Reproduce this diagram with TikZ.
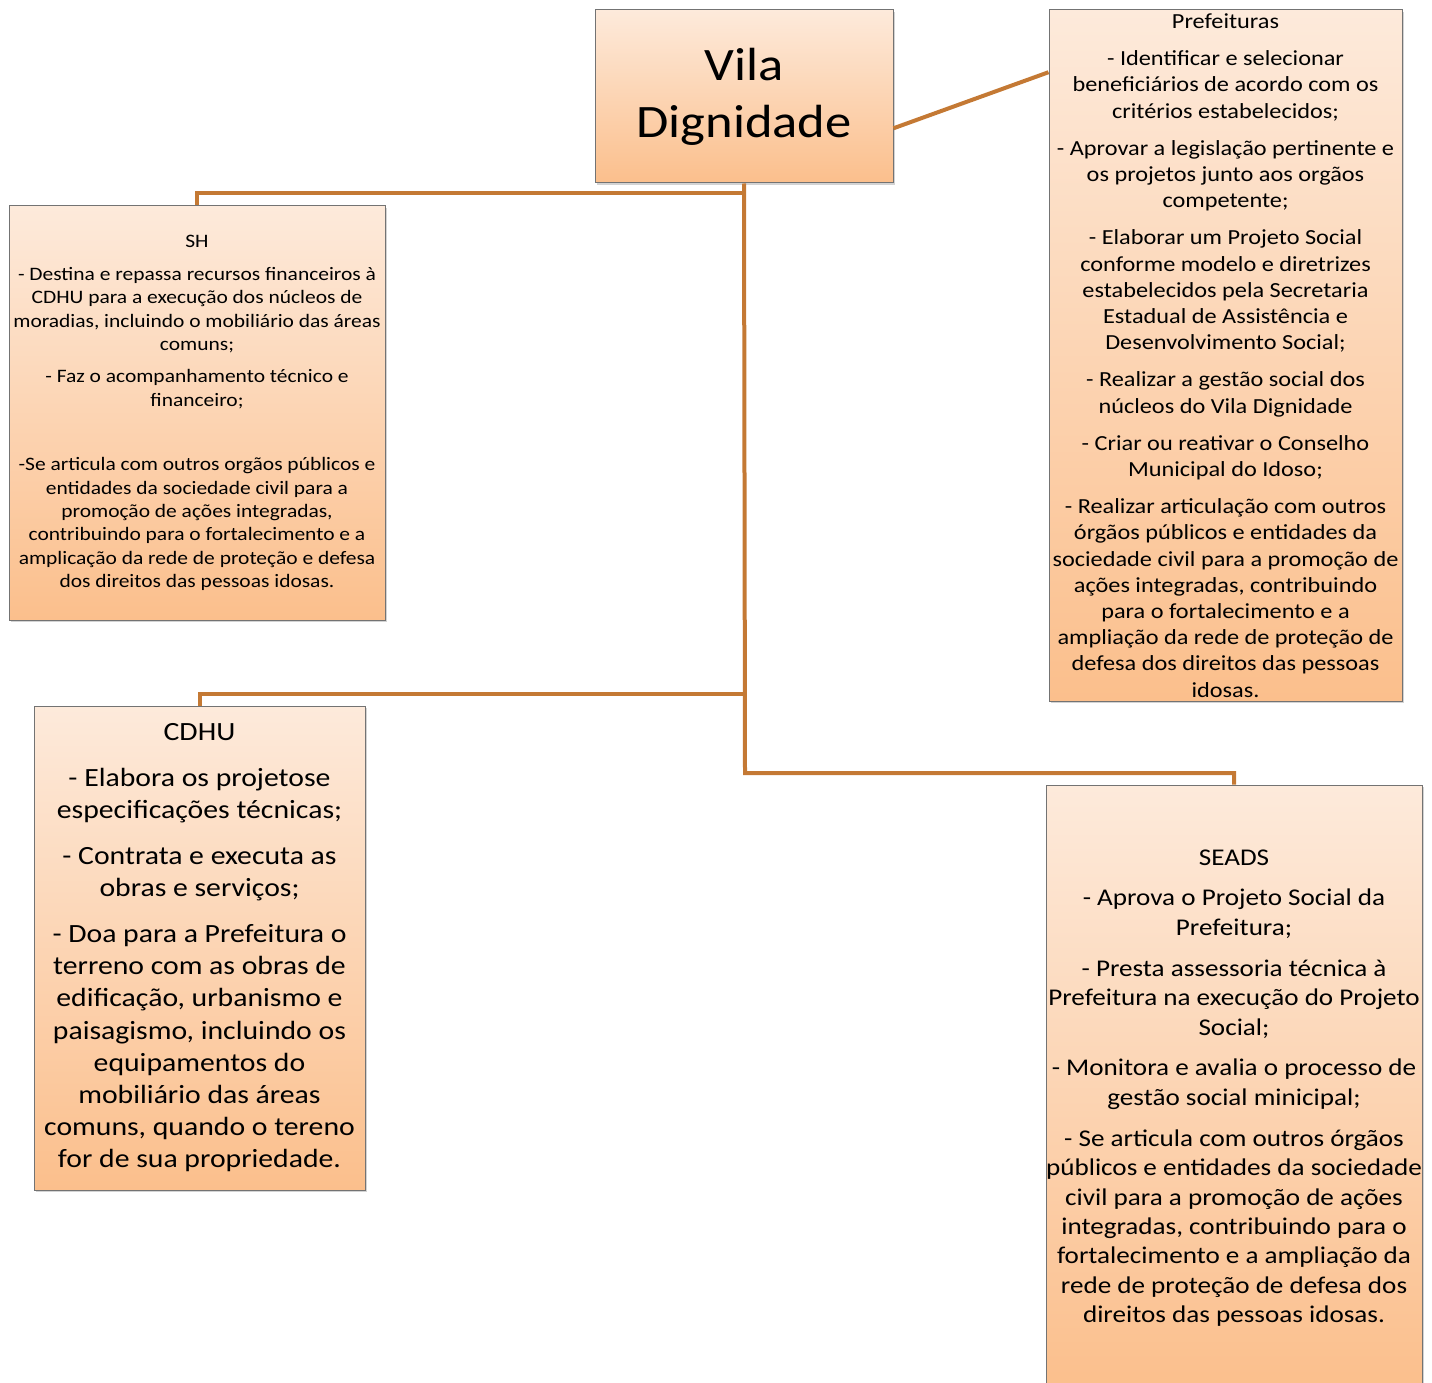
\documentclass[tikz,border=0pt]{standalone}
\usepackage{fontspec}
\setmainfont{Carlito}[FakeStretch=1.13]
\usetikzlibrary{shadows}
\definecolor{linkc}{RGB}{196,121,52}
\definecolor{boxtop}{RGB}{253,234,219}
\definecolor{boxbot}{RGB}{251,191,140}
\begin{document}
\begin{tikzpicture}[x=1pt,y=-1pt,
  box/.style={draw=black!55,line width=1pt,top color=boxtop,bottom color=boxbot,align=center,inner sep=0pt,
    drop shadow={shadow xshift=1.5pt,shadow yshift=-2pt,opacity=.35}},
  link/.style={draw=linkc,line width=4pt}]
\useasboundingbox (0,0) rectangle (1432,1383);
% boxes
\node[box,minimum width=298,minimum height=173,font=\fontsize{46.5}{57}\selectfont] (vila) at (744,96.5) {Vila\\Dignidade};
\node[box,minimum width=353,minimum height=691,font=\fontsize{21.5}{26.2}\selectfont] (pref) at (1225.5,355.5) {Prefeituras\\[11pt]
- Identificar e selecionar\\beneficiários de acordo com os\\critérios estabelecidos;\\[11pt]
- Aprovar a legislação pertinente e\\os projetos junto aos orgãos\\competente;\\[11pt]
- Elaborar um Projeto Social\\conforme modelo e diretrizes\\estabelecidos pela Secretaria\\Estadual de Assistência e\\Desenvolvimento Social;\\[11pt]
- Realizar a gestão social dos\\núcleos do Vila Dignidade\\[11pt]
- Criar ou reativar o Conselho\\Municipal do Idoso;\\[11pt]
- Realizar articulação com outros\\órgãos públicos e entidades da\\sociedade civil para a promoção de\\ações integradas, contribuindo\\para o fortalecimento e a\\ampliação da rede de proteção de\\defesa dos direitos das pessoas\\idosas.};
\node[box,minimum width=376,minimum height=414,font=\fontsize{19}{23.3}\selectfont] (sh) at (197,413) {SH\\[9.5pt]
- Destina e repassa recursos financeiros à\\CDHU para a execução dos núcleos de\\moradias, incluindo o mobiliário das áreas\\comuns;\\[9pt]
- Faz o acompanhamento técnico e\\financeiro;\\[41.5pt]
-Se articula com outros orgãos públicos e\\entidades da sociedade civil para a\\promoção de ações integradas,\\contribuindo para o fortalecimento e a\\amplicação da rede de proteção e defesa\\dos direitos das pessoas idosas.};
\node[box,minimum width=331,minimum height=484,font=\fontsize{26.3}{32.2}\selectfont] (cdhu) at (199.5,948) {CDHU\\[13.5pt]
- Elabora os projetose\\especificações técnicas;\\[13.5pt]
- Contrata e executa as\\obras e serviços;\\[13.5pt]
- Doa para a Prefeitura o\\terreno com as obras de\\edificação, urbanismo e\\paisagismo, incluindo os\\equipamentos do\\mobiliário das áreas\\comuns, quando o tereno\\for de sua propriedade.};
\node[box,minimum width=376,minimum height=606,font=\fontsize{24}{29.4}\selectfont] (seads) at (1234,1088) {SEADS\\[11.5pt]
- Aprova o Projeto Social da\\Prefeitura;\\[11.5pt]
- Presta assessoria técnica à\\Prefeitura na execução do Projeto\\Social;\\[11.5pt]
- Monitora e avalia o processo de\\gestão social minicipal;\\[11.5pt]
- Se articula com outros órgãos\\públicos e entidades da sociedade\\civil para a promoção de ações\\integradas, contribuindo para o\\fortalecimento e a ampliação da\\rede de proteção de defesa dos\\direitos das pessoas idosas.};
% connectors
\coordinate (j1) at (745,193);\coordinate (j2) at (745,694);\coordinate (j3) at (745,773);
\draw[link] (vila.south) -- (j3) -| (seads.north);
\draw[link] (j1) -| (sh.north);\draw[link] (j2) -| (cdhu.north);
\draw[link] (vila.-12.7) -- (pref.122);
\end{tikzpicture}
\end{document}
